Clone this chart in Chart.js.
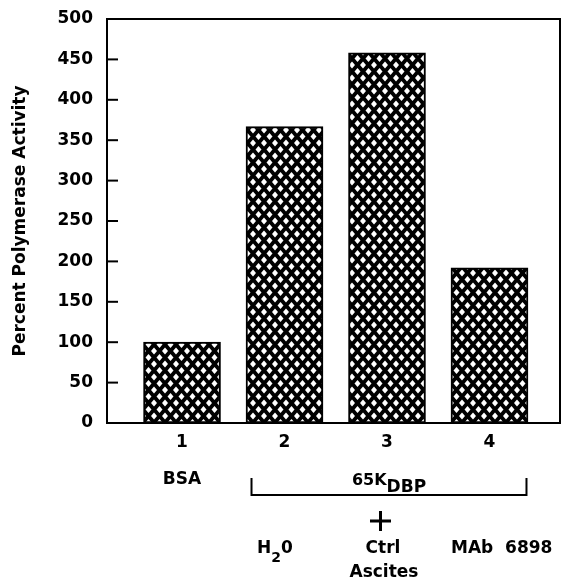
<!DOCTYPE html>
<html>
<head>
<meta charset="utf-8">
<script src="https://cdn.jsdelivr.net/npm/chart.js@4"></script>
<style>
html,body{margin:0;padding:0;background:#fff;}
#wrap{width:563px;height:581px;}
</style>
</head>
<body>
<div id="wrap"><canvas id="c" width="563" height="581"></canvas></div>
<script>
// ---- data ----
const lanes = [1, 2, 3, 4];
const laneLabels = ["1", "2", "3", "4"];
const activity = [100, 367, 458, 192];
const yTicks = [0, 50, 100, 150, 200, 250, 300, 350, 400, 450, 500];
const yTitle = "Percent Polymerase Activity";

const FONT = "'DejaVu Sans', 'Liberation Sans', Arial, sans-serif";

function makePattern() {
  const w = 11, h = 13;
  const c = document.createElement('canvas');
  c.width = w; c.height = h;
  const g = c.getContext('2d');
  g.fillStyle = '#000';
  g.fillRect(0, 0, w, h);
  g.fillStyle = '#fff';
  const hw = 3.0, hh = 3.4;
  const centers = [[w/2, h/2], [0, 0], [w, 0], [0, h], [w, h]];
  for (const [cx, cy] of centers) {
    g.beginPath();
    g.moveTo(cx, cy - hh);
    g.lineTo(cx + hw, cy);
    g.lineTo(cx, cy + hh);
    g.lineTo(cx - hw, cy);
    g.closePath();
    g.fill();
  }
  return document.getElementById('c').getContext('2d').createPattern(c, 'repeat');
}

const annot = {
  id: 'annot',
  afterDraw(chart) {
    const ctx = chart.ctx;
    const a = chart.chartArea;
    const xs = chart.scales.x, ys = chart.scales.y;
    ctx.save();
    // frame
    ctx.strokeStyle = '#000';
    ctx.lineWidth = 2;
    ctx.strokeRect(a.left, a.top, a.right - a.left, a.bottom - a.top);
    // inner y ticks
    ctx.lineWidth = 2;
    for (const t of yTicks) {
      const y = ys.getPixelForValue(t);
      ctx.beginPath();
      ctx.moveTo(a.left, y);
      ctx.lineTo(a.left + 11, y);
      ctx.stroke();
    }
    // y title
    ctx.fillStyle = '#000';
    ctx.font = "bold 17px " + FONT;
    ctx.textAlign = 'center';
    ctx.textBaseline = 'middle';
    ctx.translate(21, (a.top + a.bottom) / 2);
    ctx.rotate(-Math.PI / 2);
    ctx.fillText(yTitle, 0, 0);
    ctx.setTransform(1, 0, 0, 1, 0, 0);

    const b = a.bottom;
    const x1 = xs.getPixelForValue(1), x2 = xs.getPixelForValue(2),
          x3 = xs.getPixelForValue(3), x4 = xs.getPixelForValue(4);
    ctx.textBaseline = 'alphabetic';
    ctx.font = "bold 17px " + FONT;
    ctx.textAlign = 'center';
    ctx.fillText("BSA", x1, b + 61);

    // bracket
    ctx.lineWidth = 2;
    ctx.beginPath();
    ctx.moveTo(x2 - 33, b + 55);
    ctx.lineTo(x2 - 33, b + 72);
    ctx.lineTo(x4 + 37, b + 72);
    ctx.lineTo(x4 + 37, b + 55);
    ctx.stroke();

    // 65K DBP
    ctx.textAlign = 'left';
    ctx.font = "bold 16px " + FONT;
    const s1 = "65K";
    const w1 = ctx.measureText(s1).width;
    ctx.font = "bold 17px " + FONT;
    const s2 = "DBP";
    const w2 = ctx.measureText(s2).width;
    const start = x3 - (w1 + w2) / 2 + 2;
    ctx.font = "bold 16px " + FONT;
    ctx.fillText(s1, start, b + 62);
    ctx.font = "bold 17px " + FONT;
    ctx.fillText(s2, start + w1, b + 69);

    // plus
    ctx.lineWidth = 3;
    ctx.beginPath();
    ctx.moveTo(x3 - 17, b + 98); ctx.lineTo(x3 + 4, b + 98);
    ctx.moveTo(x3 - 6.5, b + 88); ctx.lineTo(x3 - 6.5, b + 108);
    ctx.stroke();

    // H2O
    ctx.font = "bold 17px " + FONT;
    ctx.textAlign = 'left';
    const hx = 257;
    ctx.fillText("H", hx, b + 130);
    const wh = ctx.measureText("H").width;
    ctx.font = "bold 14px " + FONT;
    ctx.fillText("2", hx + wh, b + 139);
    const w2n = ctx.measureText("2").width;
    ctx.font = "bold 17px " + FONT;
    ctx.fillText("0", hx + wh + w2n, b + 130);

    ctx.textAlign = 'center';
    ctx.fillText("Ctrl", x3 - 4, b + 130);
    ctx.fillText("Ascites", x3 - 3, b + 154);
    ctx.textAlign = 'left';
    ctx.fillText("MAb  6898", 451, b + 130);
    ctx.restore();
  }
};

const ctx = document.getElementById('c');
new Chart(ctx, {
  type: 'bar',
  data: {
    datasets: [{
      data: lanes.map((x, i) => ({x: x, y: activity[i]})),
      backgroundColor: makePattern(),
      borderColor: '#000',
      borderWidth: 2,
      borderSkipped: false,
      barThickness: 77
    }]
  },
  options: {
    responsive: false,
    animation: false,
    layout: {padding: {left: 0, top: 19, right: 3, bottom: 0}},
    plugins: {legend: {display: false}, tooltip: {enabled: false}},
    scales: {
      x: {
        type: 'linear',
        offset: false,
        min: 0.268,
        max: 4.688,
        grid: {display: false, drawTicks: false, offset: false},
        border: {display: false},
        ticks: {
          stepSize: 1,
          includeBounds: false,
          padding: 9,
          color: '#000',
          font: {family: FONT, size: 17, weight: 'bold'},
          callback: (v) => { const i = lanes.indexOf(v); return i >= 0 ? laneLabels[i] : ''; }
        },
        afterFit: (s) => { s.height = 158; s.paddingLeft = 0; s.paddingRight = 0; }
      },
      y: {
        min: 0,
        max: 500,
        grid: {display: false, drawTicks: false},
        border: {display: false},
        ticks: {
          stepSize: 50,
          padding: 14,
          color: '#000',
          font: {family: FONT, size: 17, weight: 'bold'}
        },
        afterFit: (s) => { s.width = 107; s.paddingTop = 0; s.paddingBottom = 0; }
      }
    }
  },
  plugins: [annot]
});
</script>
</body>
</html>
